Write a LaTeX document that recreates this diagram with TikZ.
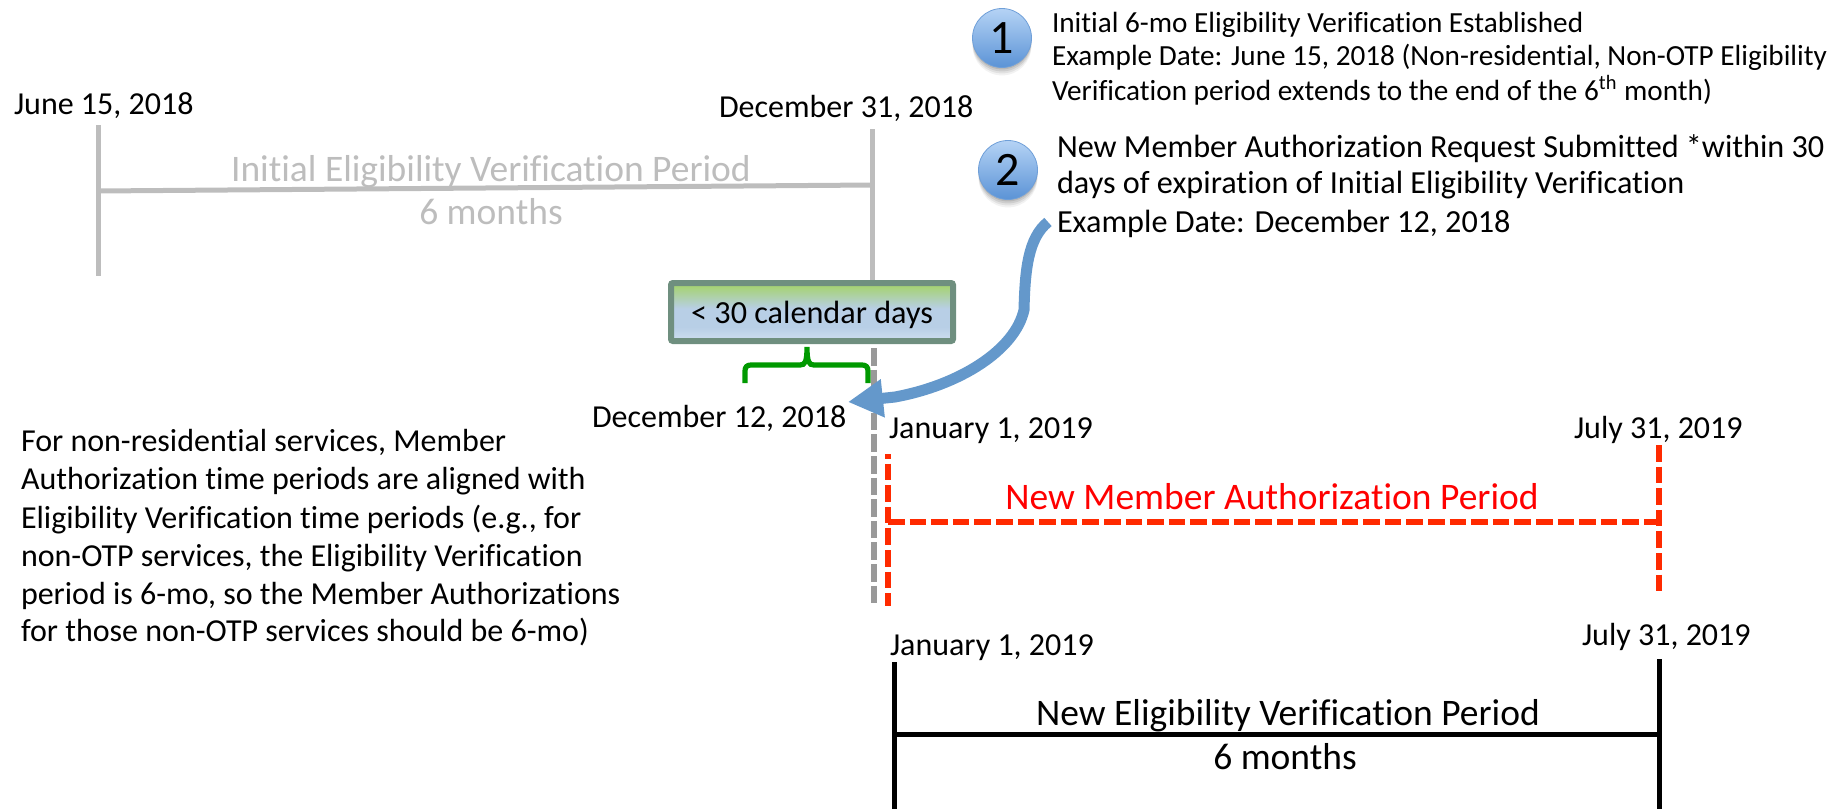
\documentclass[tikz,border=0pt]{standalone}
\usepackage{fontspec}
\setmainfont{Carlito}[Ligatures=NoCommon]
\usetikzlibrary{arrows.meta,bending}
\definecolor{bluearrow}{HTML}{6498CB}
\definecolor{boxedge}{HTML}{6F8F7F}
\definecolor{initgray}{HTML}{BDBDBD}
\definecolor{dashgray}{HTML}{999999}
\definecolor{redline}{HTML}{FF2A00}
\definecolor{greenbrace}{HTML}{009900}
\definecolor{BallTop}{HTML}{B5D3F5}
\definecolor{BallBot}{HTML}{5B93D6}
\definecolor{BallEdge}{HTML}{6F9FD8}
\definecolor{boxlow}{HTML}{CFDFF0}
\definecolor{boxmid}{HTML}{B8CFE6}
\definecolor{boxtop}{HTML}{A6D276}
\pgfdeclareverticalshading{boxfill}{100bp}{color(0bp)=(boxlow);color(25bp)=(boxlow);color(37bp)=(boxmid);color(53bp)=(boxmid);color(72bp)=(boxtop);color(100bp)=(boxtop)}
\tikzset{
  lab/.style={anchor=base west,inner sep=0pt,outer sep=0pt,font=\fontsize{16}{19}\selectfont,text=black},
  biglab/.style={lab,font=\fontsize{16.1}{19}\selectfont},
  midlab/.style={anchor=base,inner sep=0pt,outer sep=0pt,font=\fontsize{18.75}{22}\selectfont},
  small/.style={lab,font=\fontsize{14.6}{17}\selectfont},
  graybar/.style={draw=initgray,line width=2.5pt},
  blackbar/.style={draw=black,line width=2.5pt},
  redbar/.style={draw=redline,line width=2.8pt,dash pattern=on 8.3pt off 2.5pt},
  ball/.style={circle,minimum size=29.5pt,inner sep=0pt,top color=BallTop,bottom color=BallBot,draw=BallEdge,line width=0.4pt,font=\fontsize{24}{27}\selectfont},
}
\begin{document}
\begin{tikzpicture}[x=0.5pt,y=-0.5pt]
\useasboundingbox (0,0) rectangle (1835,809);
% initial eligibility
\coordinate (il1) at (98,125); \coordinate (il2) at (98,276);
\coordinate (ir1) at (872,129); \coordinate (ir2) at (872,281);
\coordinate (ih1) at (98,191); \coordinate (ih2) at (872,185);
\draw[graybar] (il1) -- (il2);
\draw[graybar] (ir1) -- (ir2);
\draw[graybar] (ih1) -- (ih2);
\node[lab] (junedate) at (14,114) {June 15, 2018};
\node[lab] (dec31) at (719,117) {December 31, 2018};
\node[midlab,text=initgray] (initper) at (491,181) {Initial Eligibility Verification Period};
\node[midlab,text=initgray] (initmo) at (491,224) {6 months};
% dashed gray
\coordinate (gd1) at (874,348); \coordinate (gd2) at (874,606);
\draw[dashgray,line width=2.8pt,dash pattern=on 8.8pt off 2pt] (gd1) -- (gd2);
% box
\node[draw=boxedge,line width=3pt,rounded corners=1pt,shading=boxfill,minimum width=141pt,minimum height=29pt,inner sep=0pt,text height=14pt,text depth=3pt,font=\fontsize{16.1}{19}\selectfont] (days) at (812,312) {< 30 calendar days};
% brace
\coordinate (bl) at (745,383); \coordinate (br) at (868,383); \coordinate (bt) at (807,347);
\draw[greenbrace,line width=2.6pt] (bl) -- (745,371) .. controls (745,367) and (747,365) .. (751,365) -- (800,365) .. controls (805,365) and (807,362) .. (bt) .. controls (807,362) and (809,365) .. (814,365) -- (862,365) .. controls (866,365) and (868,367) .. (868,371) -- (br);
% red
\coordinate (rl1) at (888,454); \coordinate (rl2) at (888,606);
\coordinate (rr1) at (1659,445); \coordinate (rr2) at (1659,595);
\coordinate (rh1) at (888,522); \coordinate (rh2) at (1659,522);
\draw[redbar,dash phase=6pt] (rl1) -- (rl2);
\draw[redbar] (rr1) -- (rr2);
\draw[redbar] (rh1) -- (rh2);
\node[midlab,text=red] (newauth) at (1272,509) {New Member Authorization Period};
\node[lab] (jan1a) at (889,438) {January 1, 2019};
\node[lab] (jul31a) at (1574,438) {July 31, 2019};
\node[lab] (dec12) at (592,427) {December 12, 2018};
% black
\coordinate (kl1) at (894,662); \coordinate (kl2) at (894,809);
\coordinate (kr1) at (1659,659); \coordinate (kr2) at (1659,809);
\coordinate (kh1) at (894,734); \coordinate (kh2) at (1659,734);
\draw[blackbar] (kl1) -- (kl2);
\draw[blackbar] (kr1) -- (kr2);
\draw[blackbar] (kh1) -- (kh2);
\node[lab] (jan1b) at (890,655) {January 1, 2019};
\node[lab] (jul31b) at (1582,645) {July 31, 2019};
\node[midlab] (neweli) at (1288,725) {New Eligibility Verification Period};
\node[midlab] (newmo) at (1285,769) {6 months};
% paragraph
\node[lab] (p1) at (21,451) {For non-residential services, Member};
\node[lab] (p2) at (21,489) {Authorization time periods are aligned with};
\node[lab] (p3) at (21,528) {Eligibility Verification time periods (e.g., for};
\node[lab] (p4) at (21,566) {non-OTP services, the Eligibility Verification};
\node[lab] (p5) at (21,604) {period is 6-mo, so the Member Authorizations};
\node[lab] (p6) at (21,641) {for those non-OTP services should be 6-mo)};
% balls
\foreach \cx/\cy in {1002/38,1008/170}{
  \foreach \o/\op in {8/.05,6/.07,4/.09,2/.1}
    \fill[black,opacity=\op] (\cx,\cy+\o) circle[radius=14.7pt];
}
\node[ball] (one) at (1002,38) {1};
\node[ball] (two) at (1008,170) {2};
\node[small] (t1a) at (1052,32) {Initial 6-mo Eligibility Verification Established};
\node[small] (t1b) at (1052,65) {Example Date: June 15, 2018 (Non-residential, Non-OTP Eligibility};
\node[small] (t1c) at (1052,100) {Verification period extends to the end of the 6\textsuperscript{th} month)};
\node[biglab] (t2a) at (1057,157) {New Member Authorization Request Submitted *within 30};
\node[biglab] (t2b) at (1057,193) {days of expiration of Initial Eligibility Verification};
\node[biglab] (t2c) at (1057,232) {Example Date: December 12, 2018};
% arrow
\coordinate (as) at (1048,222);
\coordinate (ae) at (848,402);
\draw[bluearrow,line width=5.5pt,-{Triangle[length=17.5pt,width=18pt]}] (as) .. controls (1028,238) and (1025,270) .. (1024,310) .. controls (1015,350) and (960,385) .. (895,397) -- (ae);
\end{tikzpicture}
\end{document}
